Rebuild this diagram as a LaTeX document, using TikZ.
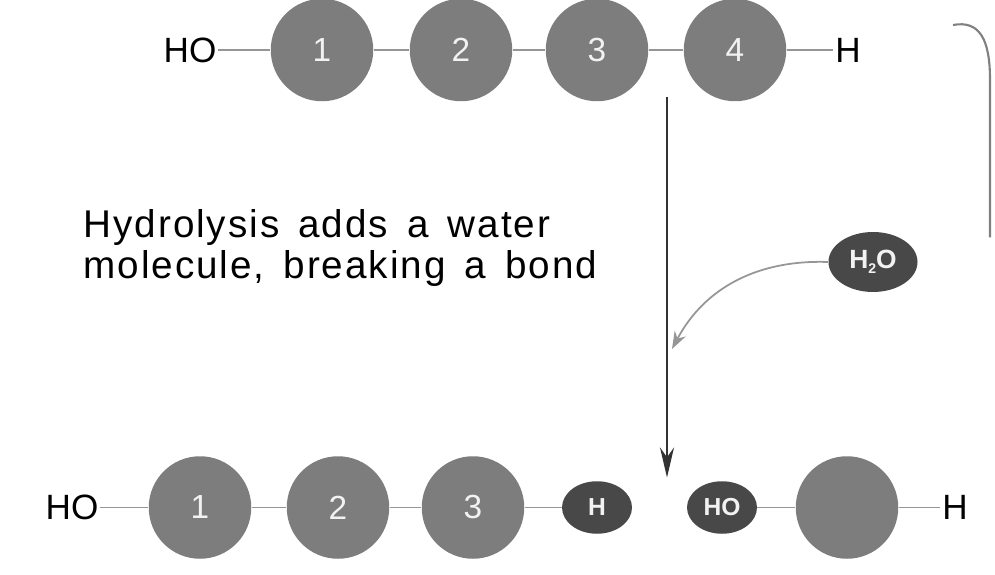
\documentclass[tikz,border=0pt]{standalone}
\usepackage{fontspec}
\setmainfont{Liberation Sans}
\usetikzlibrary{shapes.geometric, arrows.meta}

\definecolor{unitgray}{RGB}{125,125,125}
\definecolor{smallgray}{RGB}{72,72,72}
\definecolor{bondgray}{RGB}{150,150,150}

\tikzset{
  unit/.style={circle, fill=unitgray, minimum size=2.05cm, inner sep=0pt, text=white!90!gray, font=\fontsize{19}{20}\selectfont},
  endlabel/.style={inner sep=1pt, font=\fontsize{20}{22}\selectfont},
  smallunit/.style={ellipse, fill=smallgray, minimum width=1.4cm, minimum height=1.05cm, inner sep=0pt, text=white!90!gray, font=\fontsize{14}{15}\selectfont\bfseries},
  bond/.style={bondgray, line width=0.6pt}
}

\begin{document}
\begin{tikzpicture}
\useasboundingbox (0,0) rectangle (19.9,-11.5);

% TOP CHAIN
\node[endlabel] (HOa) at (3.8,-1.0) {HO};
\node[unit] (A1) at (6.44,-1.0) {1};
\node[unit] (A2) at (9.22,-1.0) {2};
\node[unit] (A3) at (11.94,-1.0) {3};
\node[unit] (A4) at (14.7,-1.0) {4};
\node[endlabel] (Ha) at (16.96,-1.0) {H};
\draw[bond] (HOa) -- (A1);
\draw[bond] (A1) -- (A2);
\draw[bond] (A2) -- (A3);
\draw[bond] (A3) -- (A4);
\draw[bond] (A4) -- (Ha);

% BRACKET
\coordinate (brtop) at (19.06,-0.5);
\coordinate (brbot) at (19.8,-4.75);
\draw[gray, line width=1.2pt] (brtop) .. controls (19.6,-0.4) and (19.8,-0.8) .. (19.8,-1.6) -- (brbot);

% WATER
\coordinate (splittop) at (13.34,-1.95);
\coordinate (splitbot) at (13.34,-9.55);
\draw[black!80, line width=0.9pt, -{Stealth[length=0.6cm, width=0.28cm]}] (splittop) -- (splitbot);
\node[smallunit, minimum width=1.78cm, minimum height=1.2cm, font=\fontsize{15}{16}\selectfont\bfseries] (W) at (17.46,-5.24) {H\raisebox{-0.35ex}{\fontsize{8}{8}\selectfont 2}O};
\coordinate (wend) at (13.44,-6.98);
\draw[bondgray, line width=1pt, -{Stealth[length=0.35cm, width=0.25cm]}] (W.west) to[out=178, in=62] (wend);

\node[anchor=west, align=left, font=\fontsize{22}{23}\selectfont\addfontfeatures{LetterSpace=5}] (txt) at (1.55,-4.96)
  {Hydrolysis \,adds \,a \,water\\molecule, \,breaking \,a \,bond};

% BOTTOM CHAIN
\node[endlabel] (HOb) at (1.44,-10.15) {HO};
\node[unit] (B1) at (4.0,-10.15) {1};
\node[unit] (B2) at (6.76,-10.15) {2};
\node[unit] (B3) at (9.46,-10.15) {3};
\node[smallunit] (Hs) at (11.94,-10.15) {H};
\node[smallunit] (HOs) at (14.44,-10.15) {HO};
\node[unit] (B4) at (16.94,-10.15) {};
\node[endlabel] (Hb) at (19.1,-10.15) {H};
\draw[bond] (HOb) -- (B1);
\draw[bond] (B1) -- (B2);
\draw[bond] (B2) -- (B3);
\draw[bond] (B3) -- (Hs);
\draw[bond] (HOs) -- (B4);
\draw[bond] (B4) -- (Hb);
\end{tikzpicture}
\end{document}
